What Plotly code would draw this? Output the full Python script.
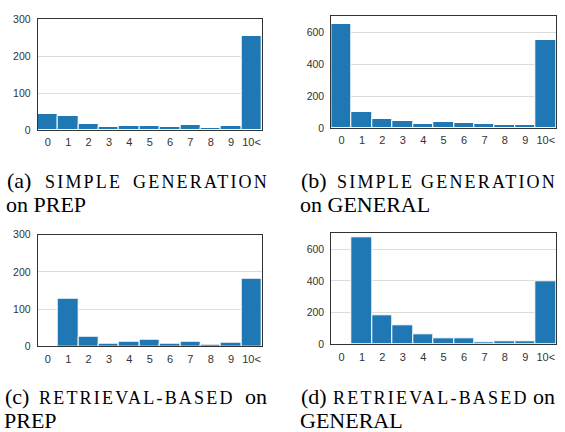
import plotly.graph_objects as go

categories = ["0", "1", "2", "3", "4", "5", "6", "7", "8", "9", "10<"]
simple_prep = [43, 38, 17, 8, 10, 11, 8, 14, 6, 12, 255]
simple_general = [650, 100, 56, 44, 27, 38, 31, 23, 19, 17, 548]
retrieval_prep = [0, 128, 27, 8, 13, 17, 8, 12, 3, 10, 182]
retrieval_general = [0, 673, 183, 120, 61, 35, 38, 13, 19, 16, 398]
y_ticks_prep = [0, 100, 200, 300]
y_ticks_general = [0, 200, 400, 600]

W, H = 565, 432
BLUE = "#1f77b4"

panels = [
    dict(vals=simple_prep, x=(37.7, 261.7), y=(19, 130), yr=300, ticks=y_ticks_prep),
    dict(vals=simple_general, x=(331.3, 556), y=(16, 128), yr=700, ticks=y_ticks_general),
    dict(vals=retrieval_prep, x=(37.7, 261.7), y=(234.7, 346.3), yr=300, ticks=y_ticks_prep),
    dict(vals=retrieval_general, x=(331.3, 556), y=(233.3, 344.3), yr=700, ticks=y_ticks_general),
]

fig = go.Figure()
layout = dict(
    width=W, height=H, margin=dict(l=0, r=0, t=0, b=0),
    paper_bgcolor="white", plot_bgcolor="white", showlegend=False, bargap=0,
)
for i, p in enumerate(panels, start=1):
    sfx = "" if i == 1 else str(i)
    fig.add_trace(go.Bar(
        x=categories, y=p["vals"], xaxis="x" + sfx, yaxis="y" + sfx,
        marker=dict(color=BLUE, line=dict(color="white", width=1)),
    ))
    layout["xaxis" + sfx] = dict(
        domain=[p["x"][0] / W, p["x"][1] / W], anchor="y" + sfx,
        type="category", range=[-0.5, 10.5], showgrid=False,
        showline=True, mirror=True, linecolor="#333", linewidth=1,
        ticks="", tickfont=dict(family="Liberation Sans, Arial", size=11, color="#333"),
        ticklabelstandoff=2, fixedrange=True, automargin=False,
    )
    layout["yaxis" + sfx] = dict(
        domain=[1 - p["y"][1] / H, 1 - p["y"][0] / H], anchor="x" + sfx,
        range=[0, p["yr"]], tickvals=p["ticks"], showgrid=True,
        gridcolor="#dcdcdc", gridwidth=1, zeroline=False,
        showline=True, mirror=True, linecolor="#333", linewidth=1,
        ticks="", tickfont=dict(family="Liberation Sans, Arial", size=10.5, color="#333"),
        ticklabelstandoff=4, fixedrange=True, automargin=False,
    )

SERIF = "Liberation Serif, Times New Roman"
BIG, SMALL = 22, 18


def word(text, x, y, size, anchor="left", spacing=0):
    t = text
    if spacing:
        t = "<span style='letter-spacing:%spx'>%s</span>" % (spacing, text)
    return dict(
        text=t, x=x / W, y=1 - y / H, xref="paper", yref="paper",
        xanchor=anchor, yanchor="middle", showarrow=False, borderpad=0,
        font=dict(family=SERIF, size=size, color="black"),
    )


# caption words: (text, x, anchor, small-caps?)
captions = [
    ([("(a)", 6, "left", False), ("SIMPLE", 44, "left", True), ("GENERATION", 270, "right", True)],
     "on PREP", 5, 181, 205),
    ([("(b)", 300, "left", False), ("SIMPLE", 336, "left", True), ("GENERATION", 558, "right", True)],
     "on GENERAL", 299, 181, 205),
    ([("(c)", 4, "left", False), ("RETRIEVAL-BASED", 38, "left", True), ("on", 268, "right", False)],
     "PREP", 3, 396.5, 420),
    ([("(d)", 300, "left", False), ("RETRIEVAL-BASED", 332, "left", True), ("on", 556, "right", False)],
     "GENERAL", 299, 396.5, 420),
]
ann = []
for words, line2, x2, y1, y2 in captions:
    for txt, x, anchor, sc in words:
        if sc:
            ann.append(word(txt, x, y1 + 1.2, SMALL, anchor, spacing=2.2))
        else:
            ann.append(word(txt, x, y1, BIG, anchor))
    ann.append(word(line2, x2, y2, BIG))
layout["annotations"] = ann
fig.update_layout(**layout)
fig.write_html(
    "out.html",
    config={"displayModeBar": False},
    post_script="document.body.style.margin='0';document.body.style.overflow='hidden';",
)
